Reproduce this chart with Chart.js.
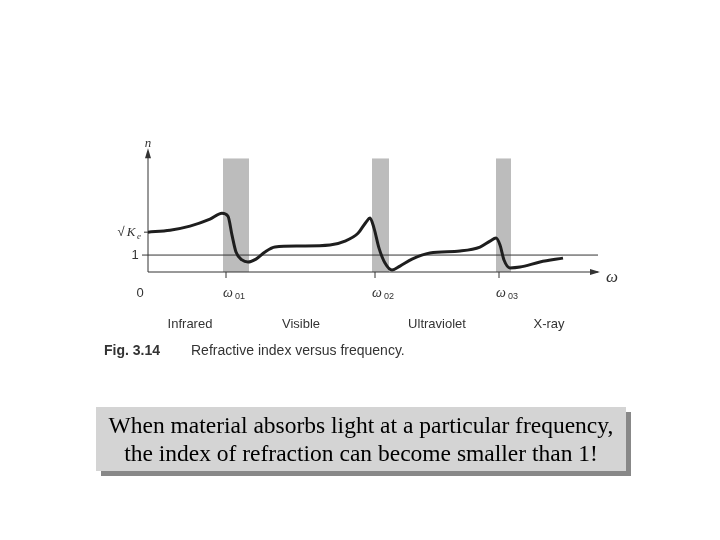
<!DOCTYPE html>
<html><head><meta charset="utf-8">
<script src="https://cdn.jsdelivr.net/npm/chart.js@4"></script>
<style>
body{margin:0;background:#fff;width:720px;height:540px;position:relative;overflow:hidden}
#wrap{position:absolute;left:0;top:0;width:720px;height:540px}
#note{position:absolute;left:96px;top:407px;width:530px;height:64px;background:#d4d4d4;box-shadow:5px 5px 0 #888;
font-family:"Liberation Serif","DejaVu Serif",serif;font-size:23.5px;line-height:28px;text-align:center;color:#000;padding-top:4px;box-sizing:border-box;white-space:nowrap}
</style></head><body>
<div id="wrap"><canvas id="c" width="720" height="540"></canvas></div>
<div id="note">When material absorbs light at a particular frequency,<br>the index of refraction can become smaller than 1!</div>
<script>
// frequency (arbitrary units) and refractive index
const freq = [0,22,42,62,74,80,84,88,94,100,108,117,127,152,182,197,210,218,222,226,231,237,244,252,264,282,312,332,342,348,352,356,362,372,392,415];
const nVals = [2.35,2.47,2.71,3.12,3.47,3.29,2.18,1.18,0.71,0.59,0.76,1.18,1.47,1.53,1.59,1.82,2.29,2.94,3.18,2.59,1.41,0.53,0.12,0.35,0.76,1.12,1.24,1.47,1.82,2.0,1.59,0.71,0.24,0.29,0.59,0.82];
const bands = [[75,101],[224,241],[348,363]];
const resonances = ['ω01','ω02','ω03'];
const regions = [['Infrared',190],['Visible',301],['Ultraviolet',437],['X-ray',549]];
const kVal = 2.35;

const figPlugin = {
  id:'fig',
  beforeDatasetsDraw(chart){
    const {ctx, scales:{x,y}} = chart;
    ctx.save();
    ctx.fillStyle = '#bcbcbc';
    bands.forEach(b=>{
      const x0 = x.getPixelForValue(b[0]), x1 = x.getPixelForValue(b[1]);
      ctx.fillRect(x0, y.getPixelForValue(6.7), x1-x0, y.getPixelForValue(0)-y.getPixelForValue(6.7));
    });
    ctx.strokeStyle = '#333'; ctx.lineWidth = 1;
    const y0 = y.getPixelForValue(0), x0 = x.getPixelForValue(0);
    // axes
    ctx.beginPath();
    ctx.moveTo(x0, y0); ctx.lineTo(x.getPixelForValue(450), y0);
    ctx.moveTo(x0, y0); ctx.lineTo(x0, y.getPixelForValue(7.1));
    const y1 = y.getPixelForValue(1);
    ctx.moveTo(x0-6, y1); ctx.lineTo(x.getPixelForValue(450), y1);
    ctx.stroke();
    ctx.fillStyle = '#333';
    ctx.beginPath(); const xe = x.getPixelForValue(452);
    ctx.moveTo(xe, y0); ctx.lineTo(xe-10, y0-3); ctx.lineTo(xe-10, y0+3); ctx.fill();
    const yt = y.getPixelForValue(7.3);
    ctx.beginPath(); ctx.moveTo(x0, yt); ctx.lineTo(x0-3, yt+10); ctx.lineTo(x0+3, yt+10); ctx.fill();
    // ticks
    ctx.beginPath();
    ctx.moveTo(x0-4, y.getPixelForValue(kVal)); ctx.lineTo(x0, y.getPixelForValue(kVal));
    bands.forEach(b=>{ const p = x.getPixelForValue(b[0]+3); ctx.moveTo(p, y0); ctx.lineTo(p, y0+6); });
    ctx.stroke();
    // labels
    ctx.font = 'italic 13px "Liberation Serif", serif';
    ctx.textAlign = 'center'; ctx.textBaseline = 'middle';
    ctx.fillText('n', x0, y.getPixelForValue(7.1)-8);
    ctx.font = 'italic 17px "Liberation Serif", serif';
    ctx.fillText('ω', 612, y0+6);
    ctx.font = '13px "Liberation Sans", sans-serif';
    ctx.fillText('√', x0-27, y.getPixelForValue(kVal));
    ctx.font = 'italic 13px "Liberation Serif", serif';
    ctx.fillText('K', x0-17, y.getPixelForValue(kVal));
    ctx.font = 'italic 9px "Liberation Serif", serif';
    ctx.fillText('e', x0-9, y.getPixelForValue(kVal)+4);
    ctx.font = '13px "Liberation Sans", sans-serif';
    ctx.fillText('1', x0-13, y1);
    ctx.fillText('0', 140, 293);
    bands.forEach((b,i)=>{
      const p = x.getPixelForValue(b[0]+10);
      ctx.font = 'italic 14px "Liberation Serif", serif';
      ctx.fillText('ω', p-5, 293);
      ctx.font = '9px "Liberation Sans", sans-serif';
      ctx.fillText(resonances[i].slice(1), p+7, 297);
    });
    ctx.font = '13px "Liberation Sans", sans-serif';
    regions.forEach(r=>ctx.fillText(r[0], r[1], 324));
    ctx.textAlign = 'left';
    ctx.font = 'bold 14px "Liberation Sans", sans-serif';
    ctx.fillText('Fig. 3.14', 104, 351);
    ctx.font = '14px "Liberation Sans", sans-serif';
    ctx.fillText('Refractive index versus frequency.', 191, 351);
    ctx.restore();
  }
};

new Chart(document.getElementById('c'), {
  type:'line',
  data:{ datasets:[{ data: freq.map((f,i)=>({x:f, y:nVals[i]})), borderColor:'#1e1e1e', borderWidth:3, pointRadius:0, tension:0.4, cubicInterpolationMode:'monotone' }] },
  options:{
    responsive:false, animation:false,
    layout:{ padding:{ left:148, right:122, top:150, bottom:268 } },
    scales:{ x:{ type:'linear', min:0, max:450, display:false }, y:{ min:0, max:7.2, display:false } },
    plugins:{ legend:{display:false}, tooltip:{enabled:false} }
  },
  plugins:[figPlugin]
});
</script>
</body></html>
